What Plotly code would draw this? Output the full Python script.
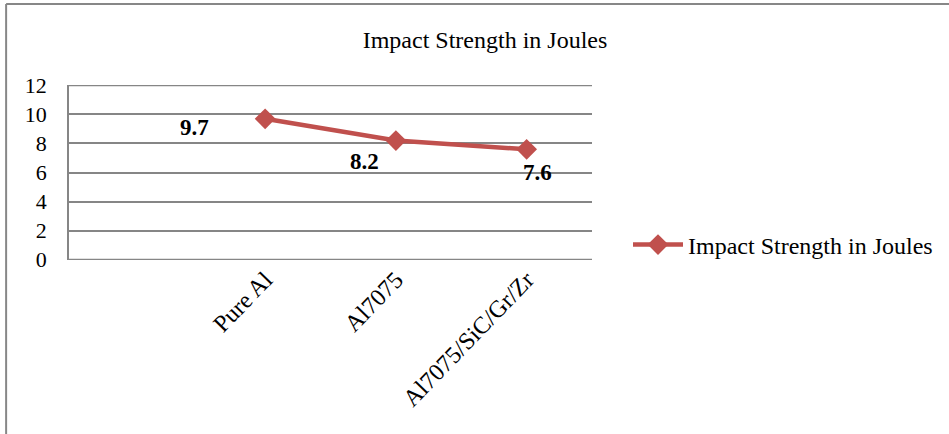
import plotly.graph_objects as go

categories = ["", "Pure Al", "Al7075", "Al7075/SiC/Gr/Zr"]
values = [None, 9.7, 8.2, 7.6]
value_labels = ["", "9.7", "8.2", "7.6"]
label_shift_x = [0, -71, -31, 11]
label_shift_y = [0, -9, -21, -23]
y_ticks = [0, 2, 4, 6, 8, 10, 12]
series_name = "Impact Strength in Joules"
title_text = "Impact Strength in Joules"

W, H = 949, 434
L, R, T, B = 69, 593, 85, 260
serif = "Liberation Serif"
grid_color = "#868686"

xs = list(range(len(categories)))
fig = go.Figure()
fig.add_trace(go.Scatter(
    x=xs, y=values, mode="lines+markers", name=series_name,
    line=dict(color="#C0504D", width=4.5),
    marker=dict(symbol="diamond", size=16, color="#C0504D"),
    connectgaps=False,
))

for x, v, t, dx, dy in zip(xs, values, value_labels, label_shift_x, label_shift_y):
    if v is None:
        continue
    fig.add_annotation(x=x, y=v, text="<b>%s</b>" % t, showarrow=False,
                       xshift=dx, yshift=dy,
                       font=dict(family=serif, size=23, color="black"))

fig.update_layout(
    width=W, height=H,
    margin=dict(l=L, r=W - R, t=T, b=H - B, pad=0),
    paper_bgcolor="white", plot_bgcolor="white",
    title=dict(text=title_text, x=485 / W, xanchor="center", y=1 - 40 / H, yanchor="middle",
               font=dict(family=serif, size=24, color="black")),
    font=dict(family=serif, size=23, color="black"),
    showlegend=True,
    legend=dict(x=(628 - L) / (R - L), y=(B - 245) / (B - T), xanchor="left", yanchor="middle",
                font=dict(family=serif, size=24, color="black"),
                bgcolor="rgba(0,0,0,0)", itemwidth=50, tracegroupgap=0),
    xaxis=dict(range=[-0.5, len(categories) - 0.5], tickvals=xs[1:], ticktext=categories[1:],
               tickangle=-46, showgrid=False, zeroline=False, showline=False,
               ticks="", ticklen=0, tickfont=dict(family=serif, size=24, color="black")),
    yaxis=dict(range=[-0.03, 12.03], tickvals=y_ticks, showgrid=True, gridcolor=grid_color, gridwidth=1.5,
               zeroline=False, showline=True, linecolor=grid_color, linewidth=1.5,
               ticks="", ticklen=0, ticklabelstandoff=16,
               tickfont=dict(family=serif, size=22, color="black")),
)

# gridlines at the range ends (plotly drops those at the plot edges)
for yv in (y_ticks[0], y_ticks[-1]):
    fig.add_shape(type="line", xref="paper", yref="y", x0=0, x1=1, y0=yv, y1=yv,
                  line=dict(color=grid_color, width=1.5), layer="below")

# outer chart border (top and left edges)
fig.add_shape(type="line", xref="paper", yref="paper",
              x0=(6 - L) / (R - L), x1=(W + 5 - L) / (R - L),
              y0=(B - 4) / (B - T), y1=(B - 4) / (B - T),
              line=dict(color="#878787", width=2))
fig.add_shape(type="line", xref="paper", yref="paper",
              x0=(6 - L) / (R - L), x1=(6 - L) / (R - L),
              y0=(B - 4) / (B - T), y1=(B - H - 5) / (B - T),
              line=dict(color="#878787", width=2))

fig.write_html("out.html", config={"displayModeBar": False},
               post_script="document.body.style.margin='0';document.body.style.overflow='hidden';")
